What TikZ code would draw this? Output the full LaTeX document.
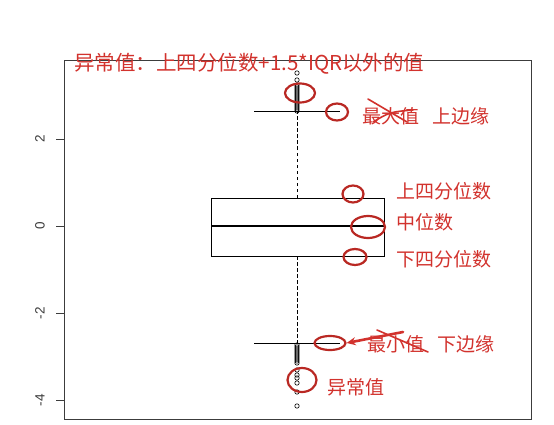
\documentclass[tikz,border=0pt]{standalone}
\usepackage{fontspec}
\setmainfont{Liberation Sans}
\newfontfamily\cjk{Noto Sans CJK SC}
\usetikzlibrary{arrows.meta,shapes.geometric}
\definecolor{redtxt}{RGB}{210,50,45}
\definecolor{redring}{RGB}{185,40,35}
\definecolor{axisgray}{RGB}{60,60,60}
\tikzset{
  frame/.style={draw=axisgray,line width=0.9pt},
  ticklab/.style={font=\fontsize{13.5}{13.5}\selectfont,text=axisgray,rotate=90},
  redlab/.style={font=\cjk\fontsize{19}{19}\selectfont,text=redtxt,inner sep=0pt,anchor=west},
  ring/.style={draw=redring,line width=2.2pt,ellipse,inner sep=0pt},
  pt/.style={draw=black,line width=0.6pt},
  scribble/.style={draw=redtxt,line width=1.6pt,line cap=round},
  whisk/.style={draw=black,line width=0.8pt,dash pattern=on 3.5pt off 2.5pt}
}
\begin{document}
\begin{tikzpicture}[x=1pt,y=-1pt]
\useasboundingbox (0,0) rectangle (554,425);
\fill[white] (0,0) rectangle (554,425);
% frame
\draw[frame] (64,60) rectangle (531,419);
% ticks
\foreach \yy/\lab in {139/2,226/0,313/-2,400/-4}{
  \draw[frame] (56,\yy) -- (64,\yy);
  \node[ticklab] at (40,\yy) {\lab};
}
% whiskers
\draw[whisk] (297,198) -- (297,111);
\draw[whisk] (297,256) -- (297,343);
\draw[black,line width=0.8pt] (254,111) -- (340,111);
\draw[black,line width=0.8pt] (254,343) -- (340,343);
% box
\draw[black,line width=0.8pt] (211,198) rectangle (384,256);
\draw[black,line width=2.4pt] (211,226) -- (384,226);
% outliers
\foreach \yy in {73,80,85,87,89,91,93,95,97,99,101,103,105,107,109,111}{
  \draw[pt] (297,\yy) circle (2.2pt);
}
\foreach \yy in {345,347,349,351,353,355,357,359,361,363,370,375,378,383,392,406}{
  \draw[pt] (297,\yy) circle (2.2pt);
}
% red rings
\node[ring,minimum width=30pt,minimum height=19pt] (rOutUp) at (300,93) {};
\node[ring,minimum width=22pt,minimum height=17pt] (rMax) at (337,112) {};
\node[ring,minimum width=21pt,minimum height=17pt] (rQ3) at (353,194) {};
\node[ring,minimum width=34pt,minimum height=22pt] (rMed) at (368,227) {};
\node[ring,minimum width=23pt,minimum height=16pt] (rQ1) at (355,257) {};
\node[ring,minimum width=31pt,minimum height=14pt] (rMin) at (330,343) {};
\node[ring,minimum width=29pt,minimum height=24pt] (rOutLo) at (302,380) {};
% labels
\node[redlab,font=\cjk\fontsize{20.5}{20.5}\selectfont] (title) at (74,64) {异常值：上四分位数+1.5*IQR以外的值};
\node[redlab] (lMax) at (362,116) {最大值\hspace{0.7em}上边缘};
\node[redlab] (lQ3) at (396,191) {上四分位数};
\node[redlab] (lMed) at (396,222) {中位数};
\node[redlab] (lQ1) at (396,259) {下四分位数};
\node[redlab] (lMin) at (367,344) {最小值\hspace{0.7em}下边缘};
\node[redlab] (lOut) at (327,387) {异常值};
% scribbles
\coordinate (s1a) at (368,99);
\coordinate (s1b) at (407,122);
\coordinate (s2a) at (373,122);
\coordinate (s2b) at (413,110);
\draw[scribble] (s1a) -- (s1b);
\draw[scribble] (s2a) .. controls (390,112) .. (s2b);
\coordinate (a1) at (403,332);
\coordinate (s3a) at (377,330);
\coordinate (s3b) at (428,352);
\draw[scribble,line width=2.6pt,-{Stealth[length=9pt,width=8pt]}] (a1) -- (rMin.east);
\draw[scribble] (s3a) -- (s3b);
\end{tikzpicture}
\end{document}
